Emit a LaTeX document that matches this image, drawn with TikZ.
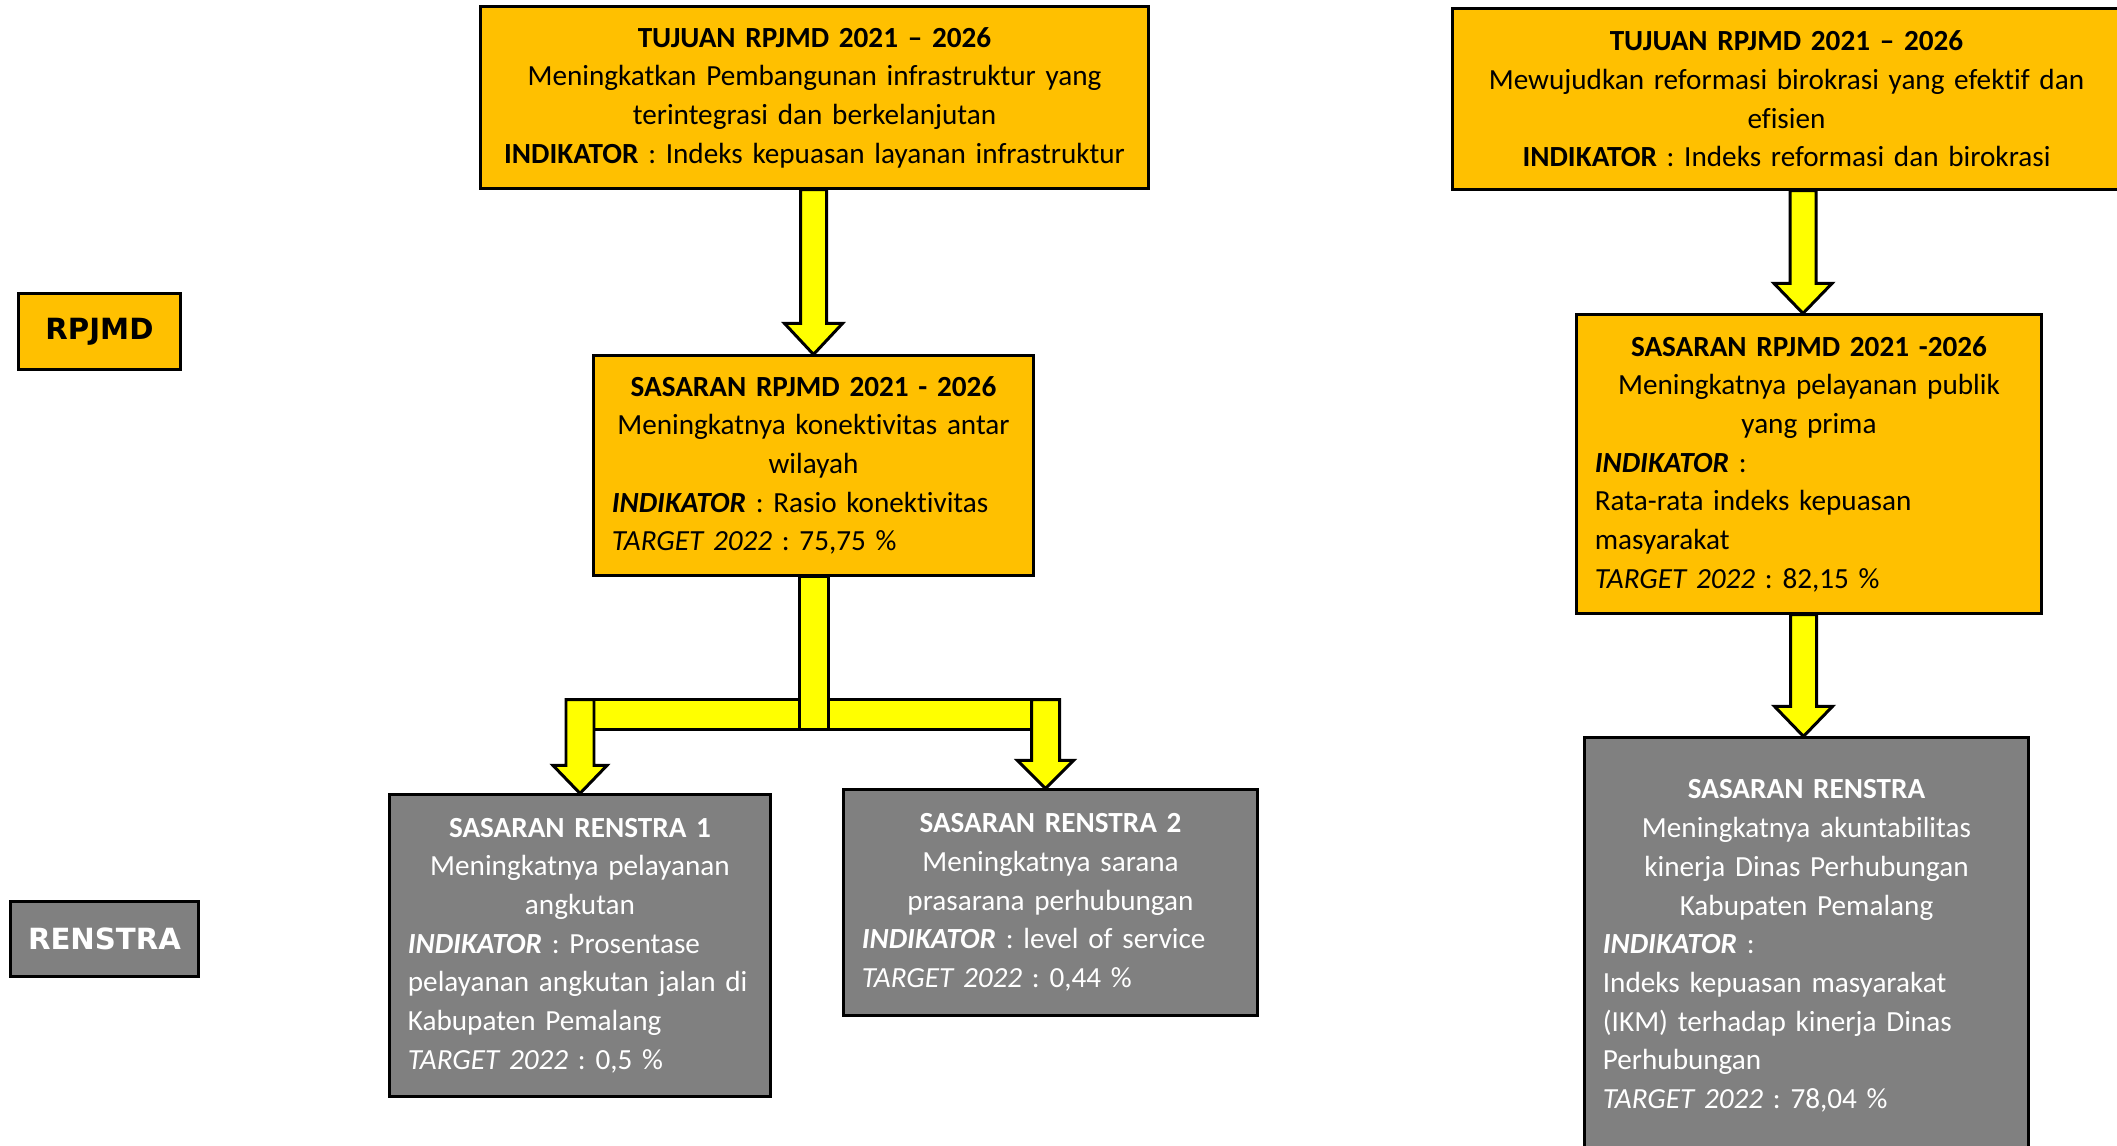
\documentclass[tikz,border=0pt]{standalone}
\usepackage{fontspec}
\setmainfont{Carlito}[Ligatures=NoCommon]
\newfontfamily\levelfont{DejaVu Sans}
\usetikzlibrary{calc}

\definecolor{rpjmdorange}{HTML}{FFC000}
\definecolor{renstragray}{HTML}{808080}
\definecolor{arrowyellow}{HTML}{FFFF00}

\tikzset{
  rpjmdbox/.style={draw, line width=0.85pt, fill=rpjmdorange, inner xsep=0.18cm,
                   inner ysep=0cm, font=\fontsize{8.3}{11}\selectfont\frenchspacing},
  renstrabox/.style={rpjmdbox, fill=renstragray, text=white},
  levelbox/.style={draw, line width=0.85pt, inner sep=0cm,
                   font=\levelfont\bfseries\fontsize{8.3}{10}\selectfont},
  blockarrow/.style={draw, line width=0.85pt, fill=arrowyellow, line join=miter}
}

\begin{document}
\begin{tikzpicture}[x=0.01cm, y=-0.01cm]
\useasboundingbox (0,0) rectangle (2117,1146);
\clip (0,0) rectangle (2117,1146);

\node[levelbox, fill=rpjmdorange, minimum width=1.61cm, minimum height=0.75cm] (rpjmd) at (99.5,331.5) {RPJMD};
\node[levelbox, fill=renstragray, text=white, minimum width=1.87cm, minimum height=0.74cm] (renstra) at (104.5,939) {RENSTRA};

\node[rpjmdbox, minimum width=6.67cm, minimum height=1.81cm, text width=6.31cm] (tujuanA) at (814.5,97.5)
  {\centering\textbf{TUJUAN RPJMD 2021 – 2026}\\Meningkatkan Pembangunan infrastruktur yang\\terintegrasi dan berkelanjutan\\\textbf{INDIKATOR} : Indeks kepuasan layanan infrastruktur\par};
\node[rpjmdbox, minimum width=6.67cm, minimum height=1.80cm, text width=6.31cm] (tujuanB) at (1786.5,99)
  {\centering\textbf{TUJUAN RPJMD 2021 – 2026}\\Mewujudkan reformasi birokrasi yang efektif dan\\efisien\\\textbf{INDIKATOR} : Indeks reformasi dan birokrasi\par};

\node[rpjmdbox, minimum width=4.39cm, minimum height=2.19cm, text width=4.03cm] (sasaranA) at (813.5,465.5)
  {\centering\textbf{SASARAN RPJMD 2021 - 2026}\\Meningkatnya konektivitas antar\\wilayah\par
   \raggedright\textbf{\textit{INDIKATOR}} : Rasio konektivitas\\\textit{TARGET 2022} : 75,75 \%\par};
\node[rpjmdbox, minimum width=4.64cm, minimum height=2.98cm, text width=4.28cm] (sasaranB) at (1809,464)
  {\centering\textbf{SASARAN RPJMD 2021 -2026}\\Meningkatnya pelayanan publik\\yang prima\par
   \raggedright\textbf{\textit{INDIKATOR}} :\\Rata-rata indeks kepuasan\\masyarakat\\\textit{TARGET 2022} : 82,15 \%\par};

\node[renstrabox, minimum width=3.80cm, minimum height=3.01cm, text width=3.44cm] (renstraA) at (580,945.5)
  {\centering\textbf{SASARAN RENSTRA 1}\\Meningkatnya pelayanan\\angkutan\par
   \raggedright\textbf{\textit{INDIKATOR}} : Prosentase\\pelayanan angkutan jalan di\\Kabupaten Pemalang\\\textit{TARGET 2022} : 0,5 \%\par};
\node[renstrabox, minimum width=4.13cm, minimum height=2.25cm, text width=3.77cm] (renstraB) at (1050.5,902.5)
  {\centering\textbf{SASARAN RENSTRA 2}\\Meningkatnya sarana\\prasarana perhubungan\par
   \raggedright\textbf{\textit{INDIKATOR}} : level of service\\\textit{TARGET 2022} : 0,44 \%\par};
\node[renstrabox, minimum width=4.43cm, minimum height=4.16cm, text width=4.07cm] (renstraC) at (1806.5,946)
  {\centering\textbf{SASARAN RENSTRA}\\Meningkatnya akuntabilitas\\kinerja Dinas Perhubungan\\Kabupaten Pemalang\par
   \raggedright\textbf{\textit{INDIKATOR}} :\\Indeks kepuasan masyarakat\\(IKM) terhadap kinerja Dinas\\Perhubungan\\\textit{TARGET 2022} : 78,04 \%\par};

\coordinate (tipB) at ($(sasaranB.north)+(-6,0)$);
\coordinate (tipC) at ($(renstraC.north)+(-3,0)$);

\draw[blockarrow] ($(sasaranA.north |- tujuanA.south)+(-13,0)$) -- ($(sasaranA.north)+(-13,-31)$)
  -- ($(sasaranA.north)+(-29,-31)$) -- (sasaranA.north) -- ($(sasaranA.north)+(29,-31)$)
  -- ($(sasaranA.north)+(13,-31)$) -- ($(sasaranA.north |- tujuanA.south)+(13,0)$) -- cycle;
\draw[blockarrow] ($(tipB |- tujuanB.south)+(-13,0)$) -- ($(tipB)+(-13,-30)$)
  -- ($(tipB)+(-29,-30)$) -- (tipB) -- ($(tipB)+(29,-30)$)
  -- ($(tipB)+(13,-30)$) -- ($(tipB |- tujuanB.south)+(13,0)$) -- cycle;
\draw[blockarrow] ($(tipC |- sasaranB.south)+(-13,0)$) -- ($(tipC)+(-13,-30)$)
  -- ($(tipC)+(-29,-30)$) -- (tipC) -- ($(tipC)+(29,-30)$)
  -- ($(tipC)+(13,-30)$) -- ($(tipC |- sasaranB.south)+(13,0)$) -- cycle;

\coordinate (fork) at ($(sasaranA.south)+(0,153)$);
\draw[blockarrow] ($(renstraA.north |- fork)+(14,0)$) rectangle ($(renstraB.north |- fork)+(9,-30)$);
\draw[blockarrow] ($(sasaranA.south)+(-14.5,0)$) rectangle ($(fork)+(14.5,0)$);
\draw[blockarrow] ($(renstraA.north |- fork)+(-14,-30)$) -- ($(renstraA.north)+(-14,-28)$)
  -- ($(renstraA.north)+(-27,-28)$) -- (renstraA.north) -- ($(renstraA.north)+(27,-28)$)
  -- ($(renstraA.north)+(14,-28)$) -- ($(renstraA.north |- fork)+(14,-30)$) -- cycle;
\draw[blockarrow] ($(renstraB.north |- fork)+(-19,-30)$) -- ($(renstraB.north)+(-19,-28)$)
  -- ($(renstraB.north)+(-33,-28)$) -- ($(renstraB.north)+(-5,0)$) -- ($(renstraB.north)+(23,-28)$)
  -- ($(renstraB.north)+(9,-28)$) -- ($(renstraB.north |- fork)+(9,-30)$) -- cycle;
\end{tikzpicture}
\end{document}
